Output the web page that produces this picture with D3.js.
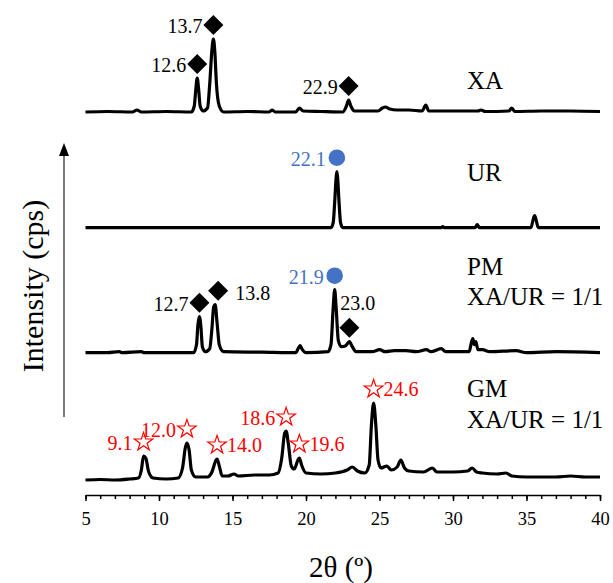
<!DOCTYPE html>
<html>
<head>
<meta charset="utf-8">
<script src="https://cdn.jsdelivr.net/npm/d3@7"></script>
<style>
  body { margin: 0; background: #fff; }
  svg text { font-family: "Liberation Serif", "Times New Roman", serif; }
</style>
</head>
<body>
<svg id="chart"></svg>
<script>
// x axis ticks (2 theta, degrees)
const majorTicks = [5, 10, 15, 20, 25, 30, 35, 40];
const minorTicks = [5, 6, 7, 8, 9, 10, 11, 12, 13, 14, 15, 16, 17, 18, 19, 20, 21, 22,
    23, 24, 25, 26, 27, 28, 29, 30, 31, 32, 33, 34, 35, 36, 37, 38, 39, 40];

const seriesNames = ['XA', 'UR', 'PM', 'GM'];
const seriesRatios = ['', '', 'XA/UR = 1/1', 'XA/UR = 1/1'];

// diffraction patterns [2theta, intensity]
const xaPattern = [[5,0],[6.5,0.5],[8.2,0],[8.5,2],[8.8,0],[10.5,0.5],[12.2,0],[12.4,6],[12.5,22],[12.6,34],[12.7,22],
    [12.8,6],[13.0,1],[13.3,4],[13.45,28],[13.6,62],[13.7,73],[13.8,60],[13.9,30],[14.1,6],[14.4,0],
    [16,0.5],[17.5,0],[17.7,2],[17.9,0],[19.3,0],[19.55,4],[19.8,1],[21,0.5],[22.5,0],[22.75,6],[22.9,12],
    [23.05,6],[23.3,1],[24.9,1],[25.2,4],[25.4,5],[25.7,3],[26.2,2],[27,2],[27.9,1],[28.15,7],[28.35,1],
    [30,1],[31.7,1],[31.9,2],[32.2,0.5],[33.8,1],[34.0,4],[34.2,0.5],[36,1],[38,1],[40,0.5]];
const urPattern = [[5,0],[12,0],[21.7,0],[21.85,5],[21.95,25],[22.05,50],[22.1,56],[22.15,50],[22.25,25],
    [22.35,5],[22.5,0],[29.2,0],[29.3,1],[29.4,0],[31.5,0],[31.65,3],[31.8,0],[35.3,0],[35.45,8],
    [35.55,12],[35.65,8],[35.8,0],[40,0]];
const pmPattern = [[5,0],[6.5,0],[7.3,1],[7.5,0],[8.8,1],[9,0],[12.35,0],[12.55,8],[12.65,28],[12.75,36],
    [12.85,26],[12.95,6],[13.15,1],[13.45,4],[13.6,24],[13.72,46],[13.82,48],[13.95,30],[14.1,8],[14.4,1],
    [17,0.5],[19.3,0],[19.5,5],[19.6,7],[19.75,3],[20,0],[21.5,1],[21.7,8],[21.85,45],[21.95,63],[22.05,45],
    [22.2,12],[22.4,6],[22.7,7],[22.95,11],[23.15,6],[23.4,1],[24.5,1],[25.0,3],[25.4,1],[26,2],[26.8,2],
    [27.5,1],[28.2,3],[28.5,1],[29.2,4],[29.5,1],[31.1,1],[31.25,10],[31.35,14],[31.45,8],[31.55,11],
    [31.7,3],[32,3],[32.5,1],[34.3,2],[35,0],[37,1],[40,0]];
const gmPattern = [[5,0],[6,0.5],[7,0],[8,1],[8.6,2],[8.8,10],[8.95,24],[9.1,22],[9.3,8],[9.6,2],[10.5,1],
    [11.3,2],[11.6,12],[11.8,33],[11.9,37],[12.05,30],[12.2,10],[12.5,3],[13.3,3],[13.6,8],[13.85,19],
    [13.95,21],[14.1,14],[14.3,4],[14.7,4],[15.1,6],[15.4,4],[16.5,5],[17.5,5],[18.1,7],[18.35,22],
    [18.55,47],[18.65,49],[18.8,36],[19.0,14],[19.2,11],[19.45,20],[19.55,22],[19.7,15],[20,7],[21,6],
    [22,7],[22.8,10],[23.15,13],[23.5,9],[24,7],[24.3,15],[24.45,55],[24.6,77],[24.75,55],[24.9,20],
    [25.1,12],[25.5,14],[25.8,10],[26.2,13],[26.45,20],[26.7,12],[27,9],[28,8],[28.6,12],[28.9,8],[30,8],
    [31,9],[31.3,12],[31.6,8],[32,7],[33,6],[33.6,7],[34,4],[35,3],[36,3],[37,3],[38,4],[39,3],[40,3]];

// peak annotations
const xaPeaks = [
    {theta: 12.6, label: '12.6', mark: 'diamond', side: 'left'},
    {theta: 13.7, label: '13.7', mark: 'diamond', side: 'left'},
    {theta: 22.9, label: '22.9', mark: 'diamond', side: 'left'}];
const urPeaks = [
    {theta: 22.1, label: '22.1', mark: 'circle', side: 'left'}];
const pmPeaks = [
    {theta: 12.7, label: '12.7', mark: 'diamond', side: 'left'},
    {theta: 13.8, label: '13.8', mark: 'diamond', side: 'wide'},
    {theta: 21.9, label: '21.9', mark: 'circle', side: 'left'},
    {theta: 23.0, label: '23.0', mark: 'diamond', side: 'above'}];
const gmPeaks = [
    {theta: 9.1, label: '9.1', mark: 'star', side: 'left'},
    {theta: 12.0, label: '12.0', mark: 'star', side: 'left'},
    {theta: 14.0, label: '14.0', mark: 'star', side: 'right'},
    {theta: 18.6, label: '18.6', mark: 'star', side: 'left'},
    {theta: 19.6, label: '19.6', mark: 'star', side: 'right'},
    {theta: 24.6, label: '24.6', mark: 'star', side: 'right'}];

class StackedXrd {
    constructor(_config, _series) {
        this.config = {
            parentElement: _config.parentElement,
            containerWidth: _config.containerWidth || 613,
            containerHeight: _config.containerHeight || 583,
            margin: {top: 15, right: 13, bottom: 88, left: 85.5},
            offsets: [383, 267.3, 142.3, 15],      // vertical stacking, intensity units
            nameY: [[89], [181], [275, 305], [397, 428]],
            nameX: 467
        }
        this.series = _series;
        this.initVis();
    }

    initVis() {
        let vis = this;
        vis.width = vis.config.containerWidth - vis.config.margin.left - vis.config.margin.right;
        vis.height = vis.config.containerHeight - vis.config.margin.top - vis.config.margin.bottom;

        vis.svg = d3.select(vis.config.parentElement)
            .attr('width', vis.config.containerWidth)
            .attr('height', vis.config.containerHeight)
            .style('background', '#fff');

        vis.chart = vis.svg.append('g')
            .attr('transform', `translate(${vis.config.margin.left}, ${vis.config.margin.top})`);

        vis.xScale = d3.scaleLinear().domain([5, 40]).range([0, vis.width]);
        vis.yScale = d3.scaleLinear().domain([0, 480]).range([vis.height, 0]);

        // minor + major ticks below the axis line
        vis.chart.append('g')
            .attr('transform', `translate(0, ${vis.height})`)
            .call(d3.axisBottom(vis.xScale).tickValues(minorTicks).tickSize(4).tickSizeOuter(0).tickFormat(''))
            .call(g => g.selectAll('line').attr('stroke', '#000').attr('stroke-width', 1.5))
            .call(g => g.select('.domain').attr('stroke', '#000').attr('stroke-width', 1.6));
        vis.chart.append('g')
            .attr('transform', `translate(0, ${vis.height})`)
            .call(d3.axisBottom(vis.xScale).tickValues(majorTicks).tickSize(6).tickSizeOuter(0).tickPadding(11))
            .call(g => g.select('.domain').remove())
            .call(g => g.selectAll('line').attr('stroke', '#000').attr('stroke-width', 1.5))
            .call(g => g.selectAll('text')
                .attr('fill', '#000')
                .style('font-size', '18.5px')
                .style('font-family', '"Liberation Serif", "Times New Roman", serif'));

        // axis titles
        vis.svg.append('text')
            .attr('x', 341).attr('y', 577)
            .attr('text-anchor', 'middle')
            .style('font-size', '29px')
            .text('2θ (º)');
        vis.svg.append('text')
            .attr('transform', 'translate(43, 286) rotate(-90)')
            .attr('text-anchor', 'middle')
            .style('font-size', '30px')
            .text('Intensity (cps)');

        // intensity arrow
        vis.svg.append('line')
            .attr('x1', 64).attr('x2', 64).attr('y1', 417).attr('y2', 152)
            .attr('stroke', '#333').attr('stroke-width', 1.3);
        vis.svg.append('path')
            .attr('d', 'M64,143 L59,156 L69,156 Z')
            .attr('fill', '#000');

        vis.line = d3.line()
            .x(d => vis.xScale(d[0]))
            .y(d => vis.yScale(d[1]))
            .curve(d3.curveMonotoneX);

        vis.renderVis();
    }

    renderVis() {
        let vis = this;
        const colors = {diamond: '#000', circle: '#4472C4', star: '#FF0000'};

        vis.series.forEach((s, i) => {
            const off = vis.config.offsets[i];
            const shifted = s.pattern.map(d => [d[0], d[1] + off]);

            vis.chart.append('path')
                .datum(shifted)
                .attr('fill', 'none')
                .attr('stroke', '#000')
                .attr('stroke-width', 3.2)
                .attr('stroke-linejoin', 'round')
                .attr('d', vis.line);

            // series name
            const names = [s.name, s.ratio].filter(t => t);
            names.forEach((t, j) => {
                vis.svg.append('text')
                    .attr('x', vis.config.nameX)
                    .attr('y', vis.config.nameY[i][j])
                    .style('font-size', '25px')
                    .attr('fill', '#000')
                    .text(t);
            });

            // peak marks
            s.peaks.forEach(p => {
                const near = shifted.filter(d => Math.abs(d[0] - p.theta) <= 0.35);
                const top = near.reduce((a, b) => b[1] > a[1] ? b : a);
                const mx = vis.xScale(top[0]) + (p.side === 'wide' ? 3 : 0);
                const my = vis.yScale(top[1]) - 14;
                const col = colors[p.mark];
                const g = vis.chart.append('g').attr('transform', `translate(${mx}, ${my})`);

                if (p.mark === 'diamond') {
                    g.append('path')
                        .attr('d', d3.symbol(d3.symbolSquare, 200)())
                        .attr('transform', 'rotate(45)')
                        .attr('fill', col);
                } else if (p.mark === 'circle') {
                    g.append('path')
                        .attr('d', d3.symbol(d3.symbolCircle, 216)())
                        .attr('fill', col);
                } else {
                    g.append('path')
                        .attr('d', d3.symbol(d3.symbolStar, 105)())
                        .attr('fill', 'none')
                        .attr('stroke', col)
                        .attr('stroke-width', 1.2)
                        .attr('stroke-linejoin', 'miter');
                }

                const txt = g.append('text')
                    .style('font-size', '20px')
                    .attr('fill', col)
                    .text(p.label);
                if (p.side === 'left') {
                    txt.attr('x', -11).attr('y', 8).attr('text-anchor', 'end');
                } else if (p.side === 'right') {
                    txt.attr('x', 10).attr('y', 7).attr('text-anchor', 'start');
                } else if (p.side === 'wide') {
                    txt.attr('x', 17).attr('y', 9).attr('text-anchor', 'start');
                } else {
                    txt.attr('x', -9).attr('y', -18).attr('text-anchor', 'start');
                }
            });
        });
    }
}

const stacked = new StackedXrd({parentElement: '#chart'}, [
    {name: seriesNames[0], ratio: seriesRatios[0], pattern: xaPattern, peaks: xaPeaks},
    {name: seriesNames[1], ratio: seriesRatios[1], pattern: urPattern, peaks: urPeaks},
    {name: seriesNames[2], ratio: seriesRatios[2], pattern: pmPattern, peaks: pmPeaks},
    {name: seriesNames[3], ratio: seriesRatios[3], pattern: gmPattern, peaks: gmPeaks}
]);
</script>
</body>
</html>
